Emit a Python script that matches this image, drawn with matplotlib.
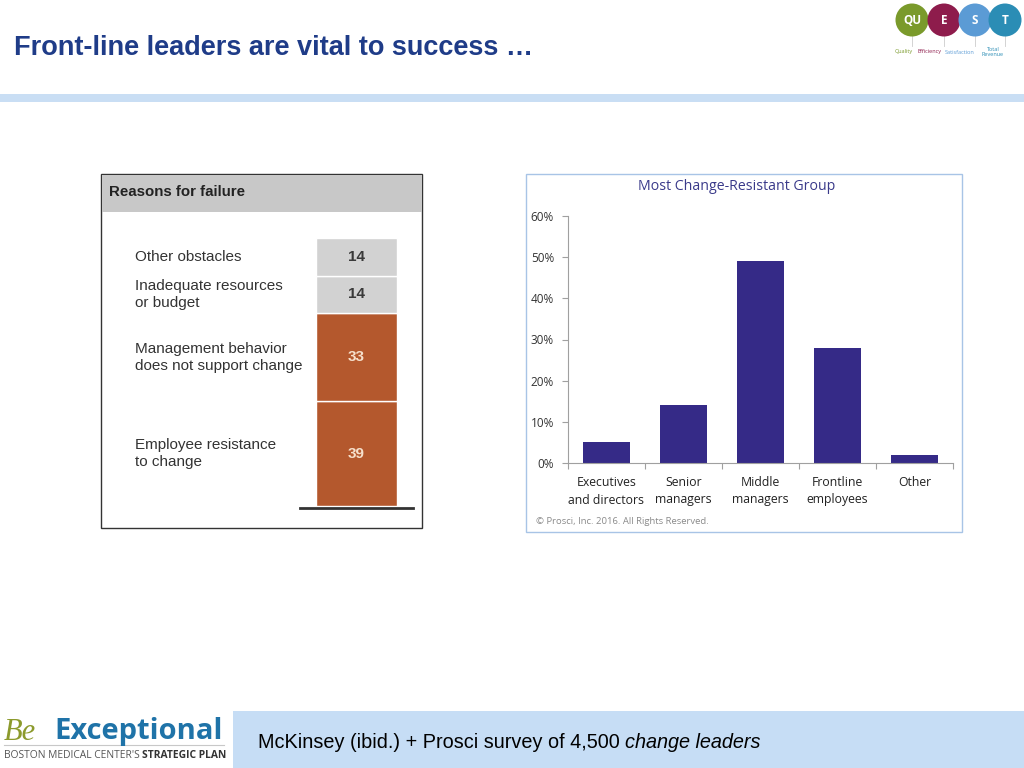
import numpy as np
import matplotlib.pyplot as plt
from matplotlib.patches import Rectangle, Circle

# ---- data ----
reasons = ['Employee resistance\nto change',
           'Management behavior\ndoes not support change',
           'Inadequate resources\nor budget',
           'Other obstacles']
reason_vals = [39, 33, 14, 14]
reason_cols = ['#B4582D', '#B4582D', '#D2D2D2', '#D2D2D2']
value_cols = ['#F6E0CC', '#F6E0CC', '#3A3A3A', '#3A3A3A']

groups = ['Executives\nand directors', 'Senior\nmanagers', 'Middle\nmanagers',
          'Frontline\nemployees', 'Other']
group_vals = [5, 14, 49, 28, 2]
yticks = [0, 10, 20, 30, 40, 50, 60]

W, H = 1024, 768
fig = plt.figure(figsize=(W / 100, H / 100), dpi=100)
fig.patch.set_facecolor('white')


def box(x, y, w, h):
    # pixel box (top-left origin) -> figure fraction
    return [x / W, 1 - (y + h) / H, w / W, h / H]


# background / decoration layer in pixel coords
bg = fig.add_axes([0, 0, 1, 1])
bg.set_xlim(0, W)
bg.set_ylim(H, 0)
bg.axis('off')

bg.text(14, 48, 'Front-line leaders are vital to success \u2026', fontsize=19.5,
        fontweight='bold', color='#1F3C88', family='Liberation Sans', va='center')
bg.add_patch(Rectangle((0, 94), W, 8, color='#C9DEF4', lw=0))

# QUEST logo
circ = [(912, 20, '#7A9A2B', 'QU'), (944, 20, '#8E1C4C', 'E'),
        (975, 20, '#5B9BD5', 'S'), (1005, 20, '#2B8DB5', 'T')]
for cx, cy, c, t in circ:
    bg.plot([cx, cx], [cy, 46], color='#CCCCCC', lw=0.6, zorder=1)
    bg.add_patch(Circle((cx, cy), 16.5, color=c, lw=0, zorder=2))
    bg.text(cx, cy, t, color='white', fontsize=8.5, fontweight='bold',
            ha='center', va='center', family='Open Sans', zorder=3)
for cx, t, c in [(904, 'Quality', '#7A9A2B'), (930, 'Efficiency', '#8E1C4C'),
                 (960, 'Satisfaction', '#5B9BD5'), (993, 'Total\nRevenue', '#2B8DB5')]:
    bg.text(cx, 52, t, color=c, fontsize=4, ha='center', va='center',
            family='Open Sans', linespacing=0.9)

# footer
bg.add_patch(Rectangle((233, 711), W - 233, 57, color='#C6DDF5', lw=0))
t1 = bg.text(258, 743, 'McKinsey (ibid.) + Prosci survey of 4,500 ', fontsize=14.3,
             family='Liberation Sans', va='center', color='black')
fig.canvas.draw()
bb = t1.get_window_extent()
bg.text(bb.x1, 743, 'change leaders', fontsize=14.3, style='italic',
        family='Liberation Sans', va='center', color='black')

# Be Exceptional logo
bg.text(4, 732, 'Be', fontsize=22, style='italic', family='Liberation Serif',
        color='#8C9A2C', va='center')
bg.text(54, 731, 'Exceptional', fontsize=21, fontweight='bold', family='Open Sans',
        color='#1F73A8', va='center')
bg.plot([4, 224], [745, 745], color='#C8C8C8', lw=0.8)
t2 = bg.text(4, 756, "BOSTON MEDICAL CENTER'S ", fontsize=7.4, family='Open Sans',
             color='#555555', va='center')
fig.canvas.draw()
bb = t2.get_window_extent()
bg.text(bb.x1, 756, 'STRATEGIC PLAN', fontsize=7.4, fontweight='bold',
        family='Open Sans', color='#333333', va='center')

# ---- left chart: Reasons for failure ----
bg.add_patch(Rectangle((101, 174), 321, 354, fill=False, ec='#333333', lw=1))
bg.add_patch(Rectangle((101.5, 174.5), 320, 37, color='#C8C8C8', lw=0))
bg.text(109, 192, 'Reasons for failure', fontsize=10.8, fontweight='bold',
        family='Liberation Sans', color='#222222', va='center')

ax1 = fig.add_axes(box(102, 212, 319, 315))
ax1.set_xlim(0, 319)
ax1.set_ylim(-(527 - 506) / 2.68, 100 + (238 - 212) / 2.68)
ax1.axis('off')
bottoms = np.concatenate([[0], np.cumsum(reason_vals)[:-1]])
ax1.bar(214 + 40.5, reason_vals, bottom=bottoms, width=81, color=reason_cols,
        edgecolor='white', linewidth=1)
for lab, v, b, tc in zip(reasons, reason_vals, bottoms, value_cols):
    mid = b + v / 2
    ax1.text(254.5, mid, str(v), ha='center', va='center', fontsize=11,
             fontweight='bold', color=tc, family='Liberation Sans')
    ax1.text(33, mid, lab, ha='left', va='center', fontsize=11,
             color='#333333', family='Liberation Sans', linespacing=1.25)
ax1.plot([198, 311], [-0.8, -0.8], color='#333333', lw=2, clip_on=False)

# ---- right chart: Most Change-Resistant Group ----
bg.add_patch(Rectangle((526, 174), 436, 358, fill=False, ec='#A8C4E6', lw=1))
bg.text(737, 186, 'Most Change-Resistant Group', fontsize=10.2, color='#3A3A8A',
        family='Open Sans', ha='center', va='center')
bg.text(536, 521, '\u00a9 Prosci, Inc. 2016. All Rights Reserved.', fontsize=6.8,
        color='#8A8A8A', family='Open Sans', va='center')

ax2 = fig.add_axes(box(568, 216, 385, 247))
x = np.arange(len(groups))
ax2.bar(x, group_vals, width=0.6, color='#352A87')
ax2.set_xlim(-0.5, len(groups) - 0.5)
ax2.set_ylim(0, 60)
ax2.set_yticks(yticks)
ax2.set_yticklabels([f'{v}%' for v in yticks], family='Open Sans', fontsize=8.5,
                    color='#333333')
ax2.set_xticks(x)
ax2.set_xticklabels(groups, family='Open Sans', fontsize=8.8, color='#222222',
                    linespacing=1.5)
ax2.tick_params(axis='x', length=0, pad=9)
ax2.tick_params(axis='y', length=4, color='#A0A0A0', width=0.8, pad=6)
ax2.set_xticks(np.arange(-0.5, len(groups)), minor=True)
ax2.tick_params(axis='x', which='minor', length=4, color='#A0A0A0', width=0.8)
for s in ['top', 'right']:
    ax2.spines[s].set_visible(False)
for s in ['left', 'bottom']:
    ax2.spines[s].set_color('#A0A0A0')
    ax2.spines[s].set_linewidth(0.8)
ax2.set_facecolor('none')

fig.savefig('out.png', dpi=100)
